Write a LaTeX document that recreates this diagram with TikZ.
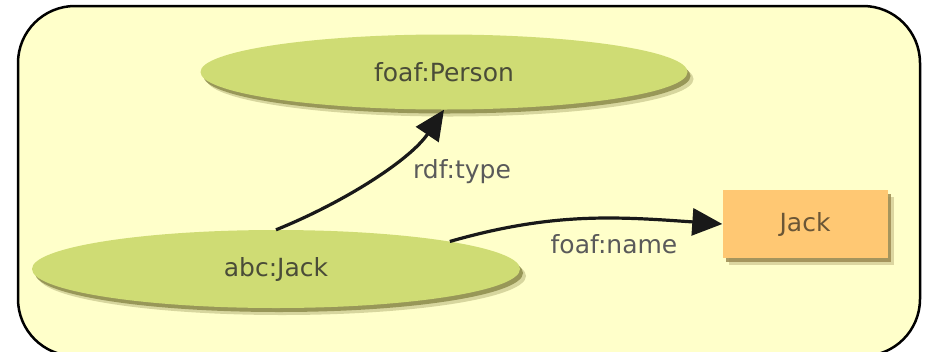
\documentclass[tikz,border=0pt]{standalone}
\usepackage{fontspec}
\setmainfont{DejaVu Sans}
\usetikzlibrary{arrows.meta,shapes.geometric,shadows}
\definecolor{panel}{HTML}{FFFFCA}
\definecolor{leaf}{HTML}{CFDC74}
\definecolor{leafshade}{HTML}{8E8C4C}
\definecolor{lit}{HTML}{FFC873}
\definecolor{litshade}{HTML}{9C8A52}
\definecolor{labelgray}{HTML}{5A5A5A}
\definecolor{nodetext}{HTML}{4A4C38}
\definecolor{littext}{HTML}{6A5636}
\begin{document}
\begin{tikzpicture}[x=1pt,y=-1pt,
  txt/.style={font=\fontsize{25}{30}\selectfont},
  softshadow/.style={
    drop shadow={shadow xshift=6pt, shadow yshift=-7pt, fill=#1, opacity=0.35},
    drop shadow={shadow xshift=3pt, shadow yshift=-4pt, fill=#1, opacity=0.85}},
  resource/.style={ellipse, fill=leaf, inner sep=0pt, txt, text=nodetext,
    softshadow=leafshade},
  literal/.style={rectangle, fill=lit, inner sep=0pt, txt, text=littext,
    softshadow=litshade},
  property/.style={txt, text=labelgray, inner sep=0pt},
  link/.style={line width=3.2pt, draw=black!90,
    -{Triangle[length=30pt,width=27pt]}},
]
\useasboundingbox (0,0) rectangle (925,351);
\begin{scope}
  \clip (0,0) rectangle (925,351);
  \draw[line width=2.5pt, fill=panel, rounded corners=57pt] (18,6) rectangle (920,356);
\end{scope}

\node[resource, minimum width=487pt, minimum height=75pt] (person) at (444,72) {foaf:Person};
\node[resource, minimum width=488pt, minimum height=78pt] (jack) at (276,269) {abc:Jack};
\node[literal, minimum width=165pt, minimum height=68pt] (name) at (805,224) {Jack};

% rdf:type arc, a smooth concave sweep up to the class (y axis points down)
\draw[link] (jack.north) .. controls +(-22:75) and +(124:60) .. (person.south);
\draw[link] (jack.9) to[out=16, in=176] (name.west);

\node[property] (ltype) at (462,172) {rdf:type};
\node[property] (lname) at (614,244) {foaf:name};
\end{tikzpicture}
\end{document}
